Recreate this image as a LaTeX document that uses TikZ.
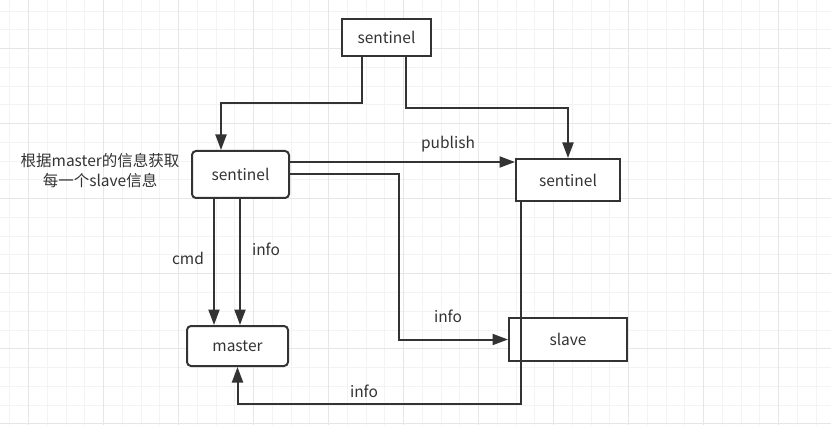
\documentclass[tikz,border=0pt]{standalone}
\usepackage{fontspec}
\newfontfamily\cjk{Noto Sans CJK SC}
\usetikzlibrary{arrows.meta,calc,positioning}
\definecolor{ink}{HTML}{333333}
\definecolor{gridmin}{HTML}{F3F3F3}
\definecolor{gridmaj}{HTML}{E6E6E6}
\tikzset{box/.style={draw=ink,line width=2pt,fill=white,inner sep=0pt,text=ink},
  rbox/.style={box,rounded corners=4pt},
  arr/.style={-{Triangle[length=15.5pt,width=11pt]},line width=2pt,draw=ink}}

\begin{document}
\begin{tikzpicture}[x=1pt,y=-1pt,font=\cjk\fontsize{15.5}{20}\selectfont,
  lbl/.style={text=ink,inner sep=0pt},
  gmin/.style={gridmin,line width=1pt},
  gmaj/.style={gridmaj,line width=1pt}]
\useasboundingbox (0,0) rectangle (831,425);
\fill[white] (0,0) rectangle (831,425);
% grid
\foreach \i in {0,...,44}{\draw[gmin] (9.75+18.75*\i,0) -- ++(0,425);}
\foreach \j in {0,...,22}{\draw[gmin] (0,11.25+18.75*\j) -- ++(831,0);}
\foreach \i in {0,...,10}{\draw[gmaj] (28.5+75*\i,0) -- ++(0,425);}
\foreach \j in {0,...,5}{\draw[gmaj] (0,48.75+75*\j) -- ++(831,0);}
% boxes
\node[box,minimum width=89pt,minimum height=37pt] (ts) at (386.5,37.5) {sentinel};
\node[rbox,minimum width=97pt,minimum height=47pt] (ls) at (240.5,174.5) {sentinel};
\node[box,minimum width=104pt,minimum height=42pt] (rs) at (568,180) {sentinel};
\node[rbox,minimum width=101pt,minimum height=40pt] (ms) at (237.5,346) {master};
\node[box,minimum width=118pt,minimum height=43pt] (sl) at (568,339.5) {slave};
\node[lbl,align=center] (note) at (100,171) {根据master的信息获取\\每一个slave信息};
% connectors
\draw[arr] ([xshift=-24.5pt]ts.south) -- ++(0,46) -| ([xshift=-19.5pt]ls.north);
\draw[arr] ([xshift=19.5pt]ts.south) -- ++(0,51) -| (rs.north);
\draw[arr] ([yshift=12.5pt]ls.east) coordinate (p1) -- (p1 -| rs.west);
\draw[arr] (ls.east) -- ++(109,0) |- (sl.west);
\draw[arr] ([xshift=-26.5pt]ls.south) coordinate (c1) -- (c1 |- ms.north);
\draw[arr] ([xshift=-0.5pt]ls.south) coordinate (c2) -- (c2 |- ms.north);
\draw[arr] ([xshift=-47pt]rs.south) |- ([yshift=-37pt]ms.south) -- (ms.south);
% labels
\node[lbl] (lpub) at (448,144) {publish};
\node[lbl] (lcmd) at (188,258) {cmd};
\node[lbl] (linfoa) at (266,249) {info};
\node[lbl] (linfob) at (448,316) {info};
\node[lbl] (linfoc) at (364,391) {info};
\end{tikzpicture}
\end{document}
